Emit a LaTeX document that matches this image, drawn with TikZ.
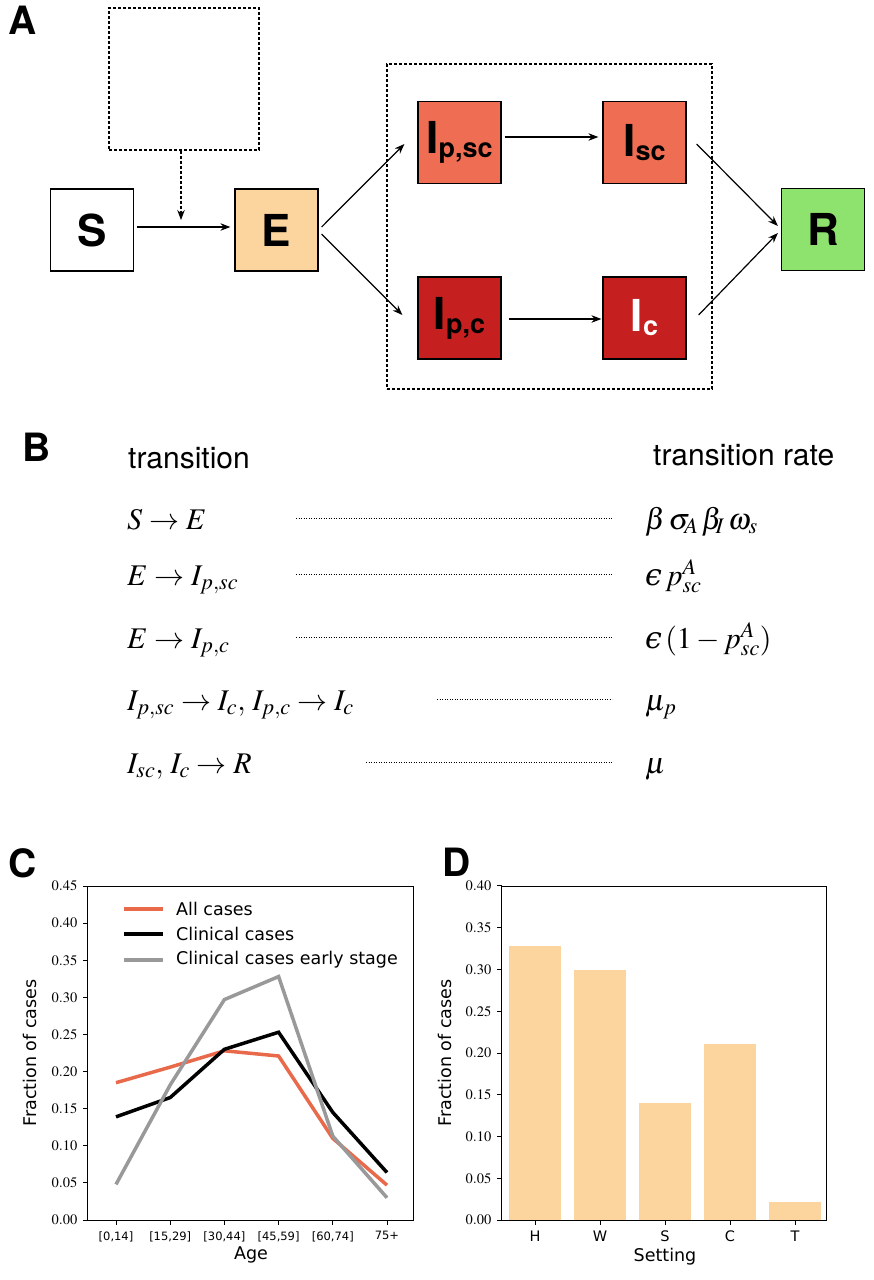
\documentclass[tikz,border=0pt]{standalone}
\usepackage{mathptmx}
\usepackage[no-math]{fontspec}
\setmainfont{TeX Gyre Heros}
\newfontfamily\plotfont{DejaVu Sans}
\newfontfamily\epsfont{DejaVu Serif}
\usetikzlibrary{arrows.meta}

\newcommand\lunateps{\mbox{\epsfont\itshape ϵ}}

\definecolor{peach}{HTML}{FCD49E}
\definecolor{salmon}{HTML}{EF6E53}
\definecolor{crimson}{HTML}{C61F1F}
\definecolor{mint}{HTML}{8EE36F}
\definecolor{lineorange}{HTML}{E9694B}
\definecolor{linegray}{HTML}{999999}

\newcommand\Isub[1]{I\raisebox{-4pt}{\fontsize{27}{27}\selectfont #1}}

\tikzset{
  comp/.style={draw, line width=1.2pt, minimum width=83pt, minimum height=82pt, inner sep=0pt,
    font=\bfseries\fontsize{44}{44}\selectfont},
  flow/.style={-{Stealth[length=10pt,width=7.5pt]}, line width=1.2pt},
  dbox/.style={draw, dash pattern=on 3pt off 2pt, line width=1.3pt, inner sep=0pt},
  panel/.style={font=\bfseries\fontsize{39}{39}\selectfont, anchor=north west, inner sep=0pt},
  leader/.style={line width=0.8pt, dash pattern=on 0.8pt off 1.7pt},
  rowtext/.style={anchor=base west, inner sep=0pt, font=\fontsize{30}{36}\selectfont},
  ticklab/.style={font=\plotfont\fontsize{14.5}{17}\selectfont, inner sep=0pt},
  axlab/.style={font=\plotfont\fontsize{17.5}{20}\selectfont, inner sep=0pt},
}

\begin{document}
\begin{tikzpicture}[x=1pt, y=-1pt]
\useasboundingbox[fill=white] (0,0) rectangle (874,1280);

% panel A
\node[panel] (labA) at (8,6) {A};
\node[dbox, minimum width=150pt, minimum height=142pt] (ext) at (184,79) {};
\node[dbox, minimum width=325pt, minimum height=325pt] (inf) at (549.5,226.5) {};

\node[comp, fill=white] (S) at (92,230) {S};
\node[comp, fill=peach] (E) at (276.5,230) {E};
\node[comp, fill=salmon] (Ipsc) at (459.5,142.5) {\Isub{p,sc}};
\node[comp, fill=salmon] (Isc) at (644.5,142.5) {\Isub{sc}};
\node[comp, fill=crimson] (Ipc) at (459.5,318) {\Isub{p,c}};
\node[comp, fill=crimson, text=white] (Ic) at (644.5,318) {\Isub{c}};
\node[comp, fill=mint] (R) at (823,229.5) {R};

\coordinate (hit) at (181,220);
\draw[flow] ([xshift=3pt,yshift=3pt]S.east) -- ([xshift=-4pt,yshift=3pt]E.west);
\draw[flow, dash pattern=on 3pt off 2pt] (ext.south -| hit) -- (hit);
\draw[flow] ([xshift=3pt,yshift=3pt]E.east) -- ([xshift=-13pt,yshift=-1.5pt]Ipsc.west);
\draw[flow] ([xshift=3pt,yshift=-4pt]E.east) -- ([xshift=-15pt,yshift=3pt]Ipc.west);
\draw[flow] ([xshift=3pt,yshift=5.5pt]Ipsc.east) -- ([xshift=-4pt,yshift=5.5pt]Isc.west);
\draw[flow] ([xshift=7pt,yshift=-1pt]Ipc.east) -- ([xshift=-1pt,yshift=-1pt]Ic.west);
\draw[flow] ([xshift=10pt,yshift=-1.5pt]Isc.east) -- ([xshift=-3pt,yshift=3.5pt]R.west);
\draw[flow] ([xshift=12pt,yshift=3pt]Ic.east) -- ([xshift=-3pt,yshift=-3.5pt]R.west);

% panel B
\node[panel] (labB) at (22,433) {B};
\node[anchor=base west, inner sep=0pt, font=\fontsize{30}{36}\selectfont] (hdL) at (128,468) {transition};
\node[anchor=base west, inner sep=0pt, font=\fontsize{30}{36}\selectfont] (hdR) at (653,465) {transition rate};

\node[rowtext] (l1) at (127,529) {$S \to E$};
\node[rowtext] (l2) at (127,585) {$E \to I_{p,sc}$};
\node[rowtext] (l3) at (127,648) {$E \to I_{p,c}$};
\node[rowtext] (l4) at (127,710) {$I_{p,sc} \to I_c,\, I_{p,c} \to I_c$};
\node[rowtext] (l5) at (127,773) {$I_{sc},\, I_c \to R$};

\node[rowtext] (r1) at (645,529) {$\beta\,\sigma_{\!A}\,\beta_{\!I}\,\omega_s$};
\node[rowtext] (r2) at (645,585) {$\lunateps\, p^A_{sc}$};
\node[rowtext] (r3) at (645,648) {$\lunateps\,(1-p^A_{sc})$};
\node[rowtext] (r4) at (645,710) {$\mu_p$};
\node[rowtext] (r5) at (645,773) {$\mu$};

\draw[leader] (296,518) -- (612,518);
\draw[leader] (296,574) -- (612,574);
\draw[leader] (296,637) -- (612,637);
\draw[leader] (437,699) -- (612,699);
\draw[leader] (366,762) -- (612,762);

% panel C
\node[panel] (labC) at (8,848) {C};
\begin{scope}[shift={(116,1220)}, x=54.2pt, y=742.2pt]
  \foreach \i in {0,...,9} {
    \pgfmathsetmacro\v{\i*0.05}
    \draw[line width=1pt] (-0.517,\v) -- ++(-5pt,0) node[ticklab, anchor=east, xshift=-5pt]
      {\pgfmathprintnumber[fixed,precision=2,zerofill]{\v}};
  }
  \foreach \lab [count=\j from 0] in {{[0,14]},{[15,29]},{[30,44]},{[45,59]},{[60,74]},75+} {
    \draw[line width=1pt] (\j,0) -- ++(0,-5pt) node[ticklab, anchor=north, yshift=-6pt,
      font=\plotfont\fontsize{11.5}{14}\selectfont] {\lab};
  }
  \draw[lineorange, line width=3.5pt] plot coordinates {(0,0.185) (1,0.206) (2,0.228) (3,0.221) (4,0.110) (5,0.047)};
  \draw[black, line width=3.5pt] plot coordinates {(0,0.139) (1,0.165) (2,0.230) (3,0.253) (4,0.145) (5,0.064)};
  \draw[linegray, line width=3.5pt] plot coordinates {(0,0.048) (1,0.182) (2,0.297) (3,0.328) (4,0.113) (5,0.030)};
  \draw[line width=1pt] (-0.517,0) rectangle (5.48,0.45);
\end{scope}
\draw[lineorange, line width=3.5pt] (124,909) -- (163,909);
\draw[black, line width=3.5pt] (124,934) -- (163,934);
\draw[linegray, line width=3.5pt] (124,960) -- (163,960);
\node[axlab, anchor=west] (legA) at (176,909) {All cases};
\node[axlab, anchor=west] (legB) at (176,934) {Clinical cases};
\node[axlab, anchor=west] (legC) at (176,960) {Clinical cases early stage};
\node[axlab] (ageC) at (251,1255) {Age};
\node[axlab, rotate=90] (fracC) at (30,1053) {Fraction of cases};

% panel D
\node[panel] (labD) at (442,848) {D};
\begin{scope}[shift={(535,1220)}, x=65pt, y=835pt]
  \foreach \lab/\h [count=\j from 0] in {H/0.328, W/0.300, S/0.140, C/0.211, T/0.021} {
    \fill[peach] (\j-0.4,0) rectangle (\j+0.4,\h);
    \draw[line width=1pt] (\j,0) -- ++(0,-5pt) node[ticklab, anchor=north, yshift=-5pt] {\lab};
  }
  \foreach \i in {0,...,8} {
    \pgfmathsetmacro\v{\i*0.05}
    \draw[line width=1pt] (-0.508,\v) -- ++(-5pt,0) node[ticklab, anchor=east, xshift=-5pt]
      {\pgfmathprintnumber[fixed,precision=2,zerofill]{\v}};
  }
  \draw[line width=1pt] (-0.508,0) rectangle (4.49,0.40);
\end{scope}
\node[axlab] (setD) at (665,1257) {Setting};
\node[axlab, rotate=90] (fracD) at (445,1053) {Fraction of cases};
\end{tikzpicture}
\end{document}
